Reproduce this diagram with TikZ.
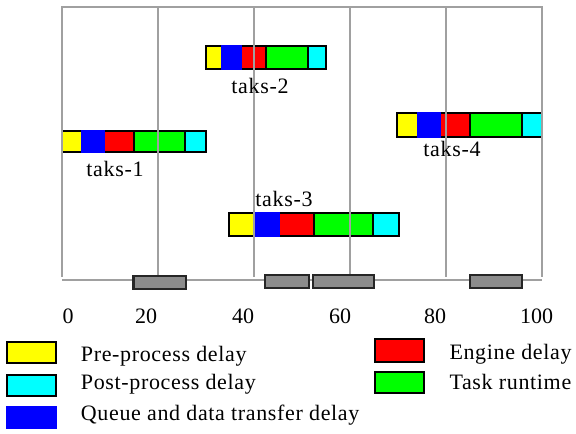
\documentclass[tikz,border=0pt]{standalone}
\usepackage{fontspec}
\setmainfont{Liberation Serif}
\newfontfamily\spacedfont[LetterSpace=3]{Liberation Serif}
\definecolor{ylw}{HTML}{FFFF00}
\definecolor{cyn}{HTML}{00FFFF}
\definecolor{blu}{HTML}{0000FF}
\definecolor{rd}{HTML}{FF0000}
\definecolor{grn}{HTML}{00FF00}
\definecolor{frame}{HTML}{A0A0A0}
\definecolor{boxgray}{HTML}{8C8C8C}
\newcommand{\mytaskbar}[8]{%
  \draw[seg, fill=ylw] (#3,#1) rectangle (#4,#2);
  \draw[seg, fill=rd] (#5,#1) rectangle (#6,#2);
  \draw[seg, fill=grn] (#6,#1) rectangle (#7,#2);
  \draw[seg, fill=cyn] (#7,#1) rectangle (#8,#2);
  \fill[blu] (#4-1,#1-1) rectangle (#5+1,#2+1);
}
\begin{document}
\begin{tikzpicture}[x=1pt,y=-1pt,
  seg/.style={draw=black, line width=2pt},
  grid/.style={draw=frame, line width=2pt},
  gbox/.style={draw=black!85, line width=2.2pt, fill=boxgray},
  lbl/.style={font=\spacedfont\fontsize{22}{26}\selectfont, inner sep=0pt, anchor=base},
  tick/.style={font=\fontsize{22}{26}\selectfont, inner sep=0pt, anchor=base},
  leg/.style={font=\spacedfont\fontsize{22}{26}\selectfont, inner sep=0pt, anchor=base west},
  legbox/.style={draw=black, line width=2pt}]
\useasboundingbox (0,0) rectangle (576,434);
% task bars
\mytaskbar{130.5}{152.3}{62}{82}{104}{134}{185}{206}
\mytaskbar{46}{69.3}{205.7}{222}{241.3}{265.7}{308.3}{326}
\mytaskbar{213.3}{235.7}{229.3}{254}{278.7}{314}{373.3}{399}
\mytaskbar{113.3}{136.7}{397.3}{417.7}{440}{470}{521.7}{541.7}
% frame and grid
\draw[grid] (62,276.5) -- (62,7) -- (542,7) -- (542,276.5);
\foreach \gx in {158,254,350,446} \draw[grid] (\gx,7) -- (\gx,276.5);
\draw[grid] (62,280) -- (542,280);
% gray boxes
\draw[gbox] (133.5,276) rectangle (186,289.3);
\draw[gbox] (265,275) rectangle (309,288);
\draw[gbox] (313,275) rectangle (374,288);
\draw[gbox] (470,275) rectangle (522,288);
% task labels
\node[lbl] (t1) at (115,176) {taks-1};
\node[lbl] (t2) at (260,93) {taks-2};
\node[lbl] (t3) at (284,206) {taks-3};
\node[lbl] (t4) at (452,156) {taks-4};
% tick labels
\node[tick] (x0) at (68,323) {0};
\node[tick] (x20) at (146,323) {20};
\node[tick] (x40) at (243,323) {40};
\node[tick] (x60) at (340,323) {60};
\node[tick] (x80) at (435,323) {80};
\node[tick] (x100) at (536.5,323) {100};
% legend
\draw[legbox, fill=ylw] (7.3,341.7) rectangle (56,363.3);
\draw[legbox, fill=cyn] (7.3,375) rectangle (56,396);
\fill[blu] (6.3,406) rectangle (57,429);
\draw[legbox, fill=rd] (375,339.3) rectangle (424,361.7);
\draw[legbox, fill=grn] (375,371.7) rectangle (424,392.7);
\node[leg] (l1) at (80.7,361) {Pre-process delay};
\node[leg] (l2) at (80.7,389) {Post-process delay};
\node[leg] (l3) at (80.7,420) {Queue and data transfer delay};
\node[leg] (l4) at (449.3,359) {Engine delay};
\node[leg] (l5) at (449.3,389) {Task runtime};
\end{tikzpicture}
\end{document}
